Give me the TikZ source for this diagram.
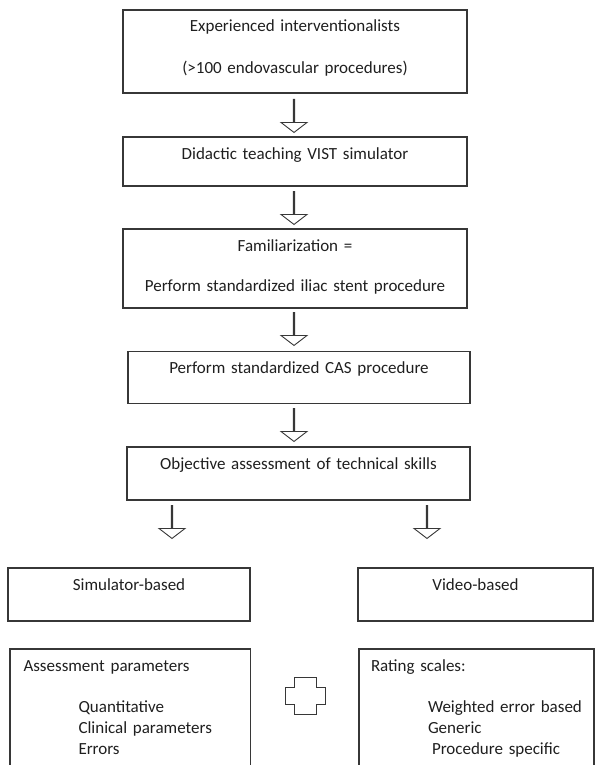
\documentclass[tikz,border=0pt]{standalone}
\usepackage{fontspec}
\setmainfont{Carlito}
\usetikzlibrary{shapes.arrows,positioning}
\definecolor{boxline}{RGB}{55,55,55}

\begin{document}
\begin{tikzpicture}[x=1pt,y=-1pt,
    every node/.style={font=\fontsize{17}{21}\selectfont, text=black!88},
    stage/.style={draw=boxline, line width=1.1pt, inner xsep=0pt, inner ysep=0pt, text height=22pt, align=center},
    branch/.style={stage, align=left},
    flow/.style={single arrow, draw=boxline, line width=0.9pt, shape border rotate=270, anchor=tail,
        minimum height=33pt, minimum width=26pt, single arrow head extend=8pt, single arrow tip angle=105, inner sep=0pt}
]
    \clip (0,0) rectangle (595,765);

    % main column
    \node[stage, text width=344pt, text depth=61pt] (expert) at (295,51.5) {Experienced interventionalists\\[21pt](>100 endovascular procedures)};
    \node[stage, text width=344pt, text depth=27pt] (didactic) at (295,161.5) {Didactic teaching VIST simulator};
    \node[stage, text width=344pt, text depth=57pt] (familiar) at (295,268.5) {Familiarization =\\[19pt]Perform standardized iliac stent procedure};
    \node[stage, text width=342pt, text depth=30pt] (cas) at (299,377.5) {Perform standardized CAS procedure};
    \node[stage, text width=343pt, text depth=31pt] (assess) at (298.5,473.5) {Objective assessment of technical skills};

    % two branches
    \node[stage, text width=242pt, text depth=31pt] (sim) at (129,594.5) {Simulator-based};
    \node[stage, text width=235pt, text depth=31pt] (video) at (475.5,594.5) {Video-based};
    \node[branch, inner xsep=13.5pt, text width=213.5pt, text depth=104pt] (params) at (130.25,712)
        {Assessment parameters\\[20pt]\hspace*{55pt}Quantitative\\\hspace*{55pt}Clinical parameters\\\hspace*{55pt}Errors};
    \node[branch, inner xsep=12pt, text width=211pt, text depth=104pt] (scales) at (476.5,712)
        {Rating scales:\\[20pt]\hspace*{57pt}Weighted error based\\\hspace*{57pt}Generic\\\hspace*{61pt}Procedure specific};

    % hollow arrows
    \node[flow] (f1) at (294,99) {};
    \node[flow] (f2) at (294,191) {};
    \node[flow] (f3) at (294,312) {};
    \node[flow] (f4) at (294,408) {};
    \node[flow] (fsim) at (172,505) {};
    \node[flow] (fvideo) at (427,505) {};

    % plus sign
    \coordinate (plus) at (305,695.5);
    \draw[boxline, line width=0.9pt] ([shift={(-11,-18.5)}]plus) -- ++(22,0) -- ++(0,10) -- ++(9,0) -- ++(0,17)
        -- ++(-9,0) -- ++(0,10) -- ++(-22,0) -- ++(0,-10) -- ++(-9,0) -- ++(0,-17) -- ++(9,0) -- cycle;
\end{tikzpicture}
\end{document}
